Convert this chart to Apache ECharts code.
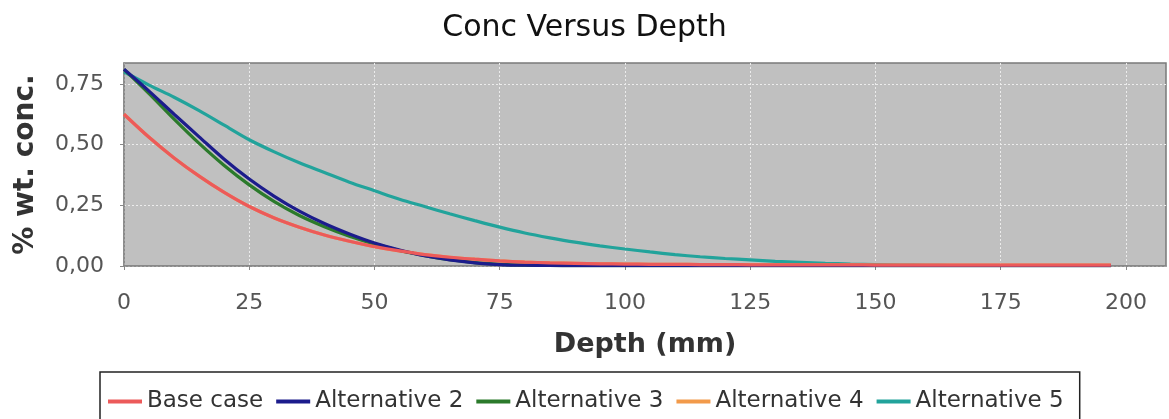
<!DOCTYPE html>
<html>
<head>
<meta charset="utf-8">
<script src="https://cdn.jsdelivr.net/npm/echarts@6/dist/echarts.min.js"></script>
<style>html,body{margin:0;padding:0;background:#fff;}#c{width:1169px;height:419px;}</style>
</head>
<body>
<div id="c"></div>
<script>
const depth = [0,5,10,15,20,25,30,35,40,45,50,55,60,65,70,75,80,85,90,95,100,105,110,115,120,125,130,135,140,145,150,155,160,165,170,175,180,185,190,195,197];
const baseCase = [0.625,0.53,0.445,0.37,0.303,0.245,0.198,0.16,0.128,0.102,0.08,0.062,0.047,0.036,0.028,0.021,0.016,0.013,0.011,0.009,0.008,0.007,0.007,0.006,0.006,0.005,0.005,0.005,0.005,0.005,0.004,0.004,0.004,0.004,0.004,0.004,0.004,0.004,0.004,0.004,0.004];
const alt2 = [0.81,0.72,0.625,0.532,0.44,0.358,0.287,0.226,0.175,0.132,0.095,0.066,0.042,0.025,0.013,0.006,0.003,0.002,0.001,0.001,0.001,0.001,0.001,0.001,0.001,0.001,0.001,0.001,0.001,0.001,0.001,0.001,0.001,0.001,0.001,0.001,0.001,0.001,0.001,0.001,0.001];
const alt3 = [0.81,0.71,0.605,0.505,0.414,0.334,0.265,0.208,0.162,0.123,0.091,0.064,0.043,0.026,0.014,0.007,0.003,0.002,0.001,0.001,0.001,0.001,0.001,0.001,0.001,0.001,0.001,0.001,0.001,0.001,0.001,0.001,0.001,0.001,0.001,0.001,0.001,0.001,0.001,0.001,0.001];
const alt4 = [0.625,0.53,0.445,0.37,0.303,0.245,0.198,0.16,0.128,0.102,0.08,0.062,0.047,0.036,0.028,0.021,0.016,0.013,0.011,0.009,0.008,0.007,0.007,0.006,0.006,0.005,0.005,0.005,0.005,0.005,0.004,0.004,0.004,0.004,0.004,0.004,0.004,0.004,0.004,0.004,0.004];
const alt5 = [0.8,0.745,0.695,0.64,0.58,0.52,0.47,0.425,0.385,0.345,0.31,0.275,0.245,0.215,0.187,0.16,0.136,0.116,0.098,0.083,0.07,0.058,0.047,0.038,0.031,0.025,0.019,0.015,0.011,0.008,0.006,0.004,0.003,0.002,0.002,0.002,0.002,0.002,0.002,0.002,0.002];
const seriesNames = ['Base case','Alternative 2','Alternative 3','Alternative 4','Alternative 5'];
const seriesValues = [baseCase, alt2, alt3, alt4, alt5];
const seriesColors = ['#ec5a5a','#1c1c8c','#2b7a2b','#f29a4a','#22a39b'];
const xTicks = [0,25,50,75,100,125,150,175,200];
const yTicks = [0,0.25,0.5,0.75];

const FONT = 'DejaVu Sans';
const chart = echarts.init(document.getElementById('c'));
chart.setOption({
  animation: false,
  backgroundColor: '#ffffff',
  title: {
    text: 'Conc Versus Depth', left: 'center', top: 8,
    textStyle: {fontFamily: FONT, fontSize: 30, fontWeight: 'normal', color: '#111'}
  },
  legend: {
    data: seriesNames, left: 100, top: 372,
    padding: [18, 16, 14, 8], itemGap: 13, itemWidth: 34, itemHeight: 4, icon: 'rect',
    borderColor: '#222', borderWidth: 1.5,
    textStyle: {fontFamily: FONT, fontSize: 23, color: '#333', padding: [0, 0, 0, 0]}
  },
  grid: {
    left: 124, top: 63, width: 1042, height: 203,
    show: true, backgroundColor: '#c0c0c0', borderColor: '#7a7a7a', borderWidth: 1.5
  },
  xAxis: {
    type: 'value', min: 0, max: 208, interval: 25, offset: 7,
    name: 'Depth (mm)', nameLocation: 'middle', nameGap: 58,
    nameTextStyle: {fontFamily: FONT, fontSize: 27, fontWeight: 'bold', color: '#333'},
    axisLine: {show: true, lineStyle: {color: '#888', width: 1.5}},
    axisTick: {show: true, length: 4, lineStyle: {color: '#888'}, customValues: xTicks},
    axisLabel: {fontFamily: FONT, fontSize: 22, color: '#555', margin: 19, customValues: xTicks},
    splitLine: {show: true, lineStyle: {color: '#ececec', type: [2, 2], width: 1}}
  },
  yAxis: {
    type: 'value', min: 0, max: 0.836, interval: 0.25, offset: 8,
    name: '% wt. conc.', nameLocation: 'middle', nameGap: 76,
    nameTextStyle: {fontFamily: FONT, fontSize: 28, fontWeight: 'bold', color: '#333'},
    axisLine: {show: true, lineStyle: {color: '#888', width: 1.5}},
    axisTick: {show: true, length: 4, lineStyle: {color: '#888'}, customValues: yTicks},
    axisLabel: {
      fontFamily: FONT, fontSize: 22, color: '#555', margin: 12, customValues: yTicks,
      formatter: v => v.toFixed(2).replace('.', ',')
    },
    splitLine: {show: true, lineStyle: {color: '#ececec', type: [2, 2], width: 1}}
  },
  series: seriesNames.map((n, i) => ({
    name: n, type: 'line', showSymbol: false, smooth: 0.3,
    z: 10 - i,
    color: seriesColors[i],
    lineStyle: {width: 3.2, color: seriesColors[i]},
    data: depth.map((d, k) => [d, seriesValues[i][k]])
  }))
});
</script>
</body>
</html>
